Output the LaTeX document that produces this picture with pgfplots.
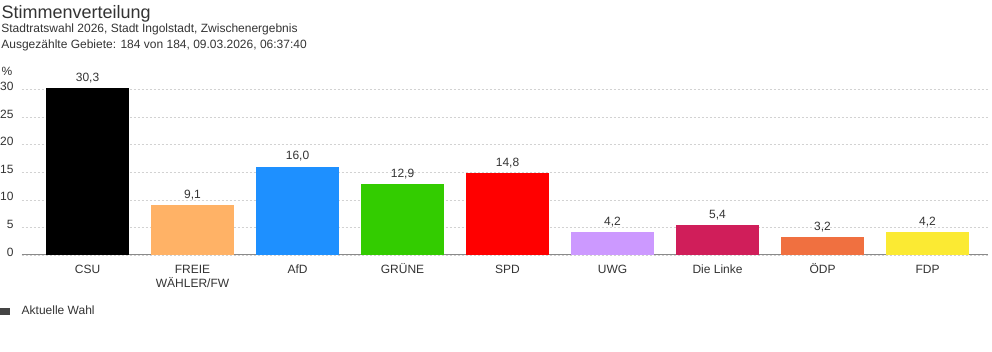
\documentclass[border=0pt]{standalone}
\usepackage{fontspec}
\setmainfont{Liberation Sans}
\usepackage{pgfplots}
\pgfplotsset{compat=1.18}
\definecolor{txt}{HTML}{333333}
\definecolor{axgray}{HTML}{8A8A8A}
\definecolor{gridgray}{HTML}{D2D2D2}
\definecolor{legdark}{HTML}{444444}
\definecolor{cCSU}{HTML}{000000}
\definecolor{cFW}{HTML}{FFB266}
\definecolor{cAfD}{HTML}{1E90FF}
\definecolor{cGR}{HTML}{33CC00}
\definecolor{cSPD}{HTML}{FF0000}
\definecolor{cUWG}{HTML}{CC99FF}
\definecolor{cLI}{HTML}{D01E5A}
\definecolor{cODP}{HTML}{F07040}
\definecolor{cFDP}{HTML}{FBEA33}
\newcommand{\ph}{\vphantom{ÄÖÜ}}
\begin{document}
\begin{tikzpicture}[x=1pt,y=1pt]
\useasboundingbox (0,0) rectangle (992,352);
\node[anchor=base west, inner sep=0pt, text=txt, font=\fontsize{18}{21}\selectfont] at (1.5,333.5) {Stimmenverteilung};
\node[anchor=base west, inner sep=0pt, text=txt, font=\fontsize{12}{14}\selectfont] at (1.2,319) {Stadtratswahl 2026, Stadt Ingolstadt, Zwischenergebnis};
\node[anchor=base west, inner sep=0pt, text=txt, font=\fontsize{12}{14}\selectfont] at (1.2,303) {Ausgezählte Gebiete: 184 von 184, 09.03.2026, 06:37:40};
\node[anchor=base west, inner sep=0pt, text=txt, font=\fontsize{12}{14}\selectfont] at (1.5,276) {\%};
\begin{axis}[
  at={(21.7pt,97pt)}, anchor=south west,
  scale only axis, width=966.3pt, height=171.1pt,
  xmin=-0.627, xmax=8.576, ymin=0, ymax=31,
  axis x line*=bottom, axis y line*=left,
  y axis line style={draw=none},
  x axis line style={draw=axgray, line width=1pt},
  major tick length=0pt,
  ytick={0,5,...,30},
  xtick={0,...,8},
  xticklabels={\ph CSU,{\ph FREIE\\WÄHLER/FW},\ph AfD,\ph GRÜNE,\ph SPD,\ph UWG,\ph Die Linke,\ph ÖDP,\ph FDP},
  /pgf/number format/assume math mode=true,
  tick label style={font=\fontsize{12}{14}\selectfont, text=txt},
  yticklabel style={inner sep=0pt, anchor=east, xshift=-8pt, yshift=3pt},
  xticklabel style={inner sep=0pt, anchor=north, align=center, yshift=-8pt},
  ymajorgrids,
  grid style={gridgray, dash pattern=on 2pt off 2pt, line width=0.5pt},
  nodes near coords={\pgfmathprintnumber[fixed,fixed zerofill,precision=1,use comma]{\pgfplotspointmeta}},
  every node near coord/.append style={font=\fontsize{12}{14}\selectfont, text=txt, anchor=south, inner sep=0pt, yshift=5pt},
  legend style={at={(axis description cs:-0.02246,-0.3273)}, anchor=west, draw=none, fill=none, inner sep=0pt, outer sep=0pt,
    font=\fontsize{12}{14}\selectfont, text=txt, cells={anchor=west, inner sep=0pt},
    /tikz/every odd column/.style={column sep=10pt}},
  legend image code/.code={\fill[legdark] (0pt,-2.8pt) rectangle (9.3pt,2.8pt);},
]
\addplot[ybar, bar width=83.6pt, bar shift=0pt, fill=cCSU, draw=none, forget plot] coordinates {(0,30.3)};
\addplot[ybar, bar width=83.6pt, bar shift=0pt, fill=cFW, draw=none, forget plot] coordinates {(1,9.1)};
\addplot[ybar, bar width=83.6pt, bar shift=0pt, fill=cAfD, draw=none, forget plot] coordinates {(2,16.0)};
\addplot[ybar, bar width=83.6pt, bar shift=0pt, fill=cGR, draw=none, forget plot] coordinates {(3,12.9)};
\addplot[ybar, bar width=83.6pt, bar shift=0pt, fill=cSPD, draw=none, forget plot] coordinates {(4,14.8)};
\addplot[ybar, bar width=83.6pt, bar shift=0pt, fill=cUWG, draw=none, forget plot] coordinates {(5,4.2)};
\addplot[ybar, bar width=83.6pt, bar shift=0pt, fill=cLI, draw=none, forget plot] coordinates {(6,5.4)};
\addplot[ybar, bar width=83.6pt, bar shift=0pt, fill=cODP, draw=none, forget plot] coordinates {(7,3.2)};
\addplot[ybar, bar width=83.6pt, bar shift=0pt, fill=cFDP, draw=none, forget plot] coordinates {(8,4.2)};
\addlegendimage{legdark}
\addlegendentry{Aktuelle Wahl}
\end{axis}
\end{tikzpicture}
\end{document}
